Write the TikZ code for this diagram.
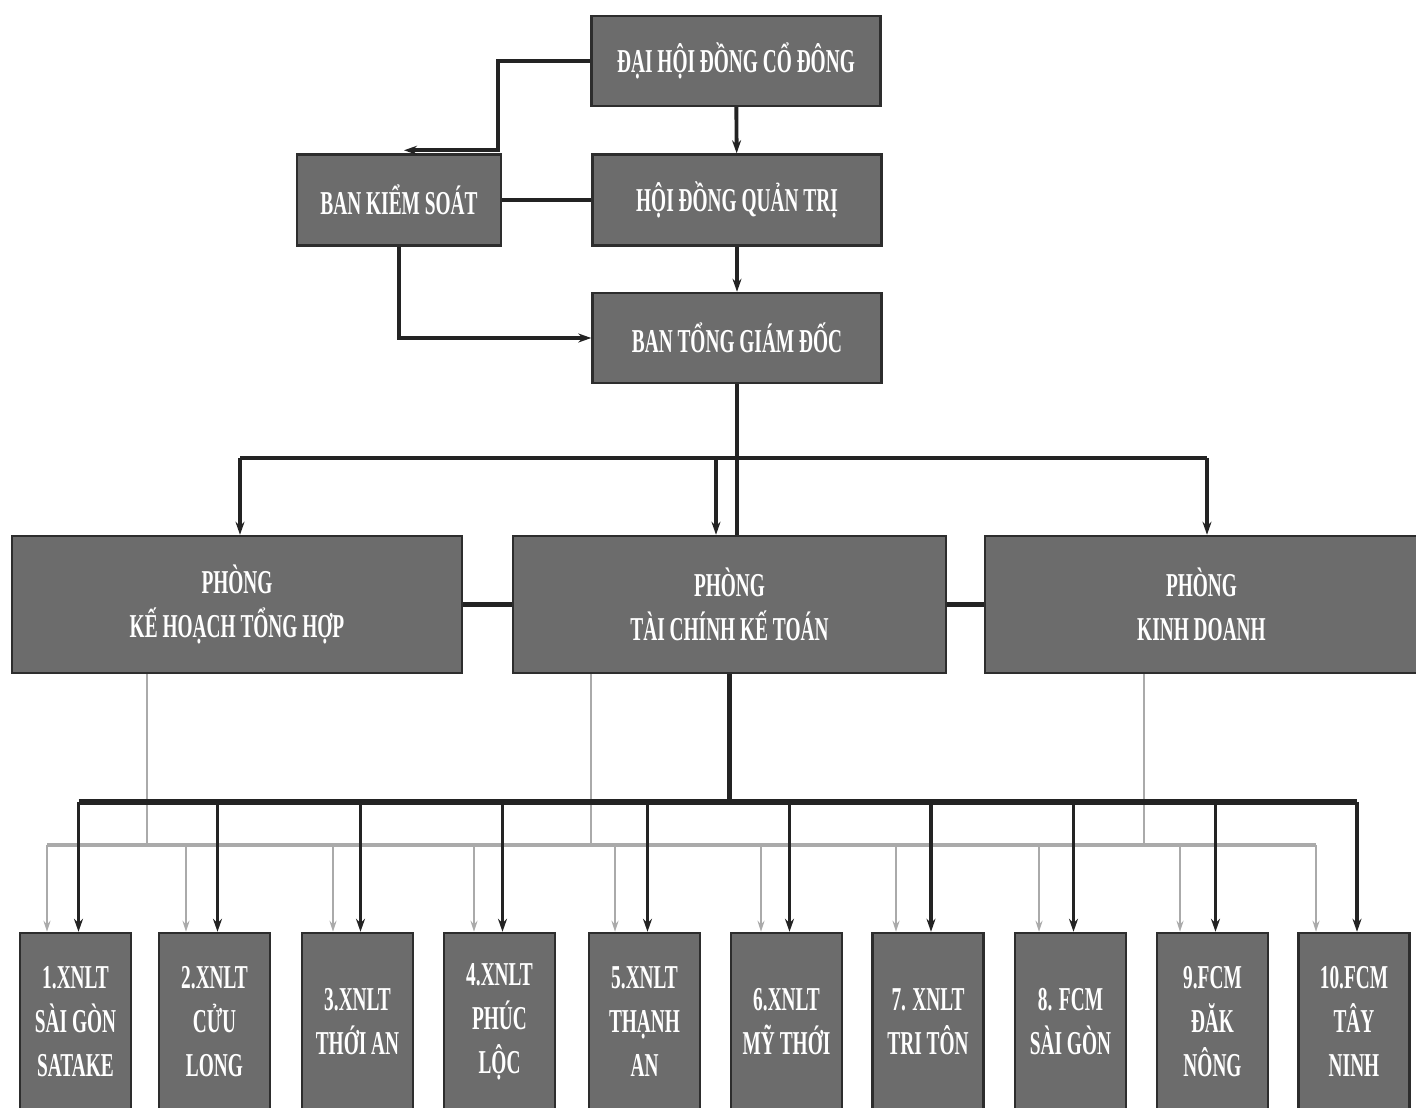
\documentclass[tikz,border=0pt]{standalone}
\usepackage{fontspec}
\setmainfont{Liberation Serif}[FakeStretch=0.58]
\usetikzlibrary{arrows.meta}

\definecolor{boxgray}{RGB}{108,108,108}
\definecolor{boxedge}{RGB}{45,45,45}
\definecolor{linedark}{RGB}{35,35,35}
\definecolor{linegray}{RGB}{170,170,170}

\tikzset{
  unit/.style={draw=boxedge, line width=1.4pt, fill=boxgray, text=white, align=center,
    inner sep=0pt, font=\fontsize{19}{25}\selectfont\bfseries},
  topbox/.style={unit, minimum width=5.78cm, minimum height=1.8cm},
  deptbox/.style={unit, minimum width=8.66cm, minimum height=2.74cm},
  branch/.style={unit, minimum width=2.22cm, minimum height=3.54cm},
  link/.style={draw=linedark, line width=2.2pt},
  linkto/.style={link, -{Stealth[length=0.26cm,width=0.18cm]}},
  glink/.style={draw=linegray, line width=1.6pt},
  glinkto/.style={glink, -{Stealth[length=0.22cm,width=0.14cm]}},
}

\begin{document}
\begin{tikzpicture}[x=0.02cm,y=-0.02cm]
	\useasboundingbox (0,0) rectangle (1416,1108);

	% board level
	\node[topbox] (dhd) at (736,61) {ĐẠI HỘI ĐỒNG CỔ ĐÔNG};
	\node[topbox, minimum height=1.82cm] (hdqt) at (737,200) {HỘI ĐỒNG QUẢN TRỊ};
	\node[topbox, minimum width=4.08cm, minimum height=1.82cm] (bks) at (399,200) {BAN KIỂM SOÁT};
	\node[topbox] (btgd) at (737,338) {BAN TỔNG GIÁM ĐỐC};

	% departments
	\node[deptbox, minimum width=9cm] (khth) at (237,604.5) {PHÒNG\\KẾ HOẠCH TỔNG HỢP};
	\node[deptbox] (tckt) at (729.5,604.5) {PHÒNG\\TÀI CHÍNH KẾ TOÁN};
	\node[deptbox] (kd) at (1201.5,604.5) {PHÒNG\\KINH DOANH};

	% branches
	\foreach \i/\cx/\gx/\txt in {1/75.5/47/{1.XNLT\\SÀI GÒN\\SATAKE},
		2/214.5/186/{2.XNLT\\CỬU\\LONG}, 3/357.5/333/{3.XNLT\\THỚI AN},
		4/499.5/474/{4.XNLT\\PHÚC\\LỘC}, 5/644.5/615/{5.XNLT\\THẠNH\\AN},
		6/786.5/761/{6.XNLT\\MỸ THỚI}, 7/928/896/{7. XNLT\\TRI TÔN},
		8/1070.5/1039/{8. FCM\\SÀI GÒN}, 9/1212.5/1180/{9.FCM\\ĐĂK\\NÔNG},
		10/1354/1316/{10.FCM\\TÂY\\NINH}}{
		\node[branch] (b\i) at (\cx,1021.5) {\txt};
		\coordinate (g\i) at (\gx,0);
		\coordinate (d\i) at ([xshift=0.06cm]b\i.north);
	}

	% top connectors
	\draw[linkto] (dhd) -- (hdqt);
	\draw[linkto] (hdqt) -- (btgd);
	\draw[linkto] (dhd.west) -| ([xshift=-0.08cm,yshift=0.06cm]bks.north east)
		-- ([xshift=0.1cm,yshift=0.06cm]bks.north);
	\draw[link] (bks) -- (hdqt);
	\draw[linkto] (bks.south) |- (btgd.west);

	% to departments
	\coordinate (tbus) at (0,458);
	\coordinate (a1) at ([xshift=0.06cm]khth.north);
	\coordinate (a2) at ([xshift=-0.27cm]tckt.north);
	\coordinate (a3) at ([xshift=0.11cm]kd.north);
	\draw[link, line width=1.8pt] (btgd.south) -- (btgd.south |- tckt.north);
	\draw[link, line width=2.8pt] (a1 |- tbus) -- (a3 |- tbus);
	\foreach \a in {a1,a2,a3}
		\draw[linkto] (\a |- tbus) -- (\a);
	\draw[link, line width=2.8pt] (khth) -- (tckt);
	\draw[link, line width=2.8pt] (tckt) -- (kd);

	% to branches, grey lines
	\coordinate (dbus) at (0,802);
	\coordinate (gbus) at (0,845);
	\coordinate (k1) at ([xshift=-1.8cm]khth.south);
	\coordinate (k2) at ([xshift=-2.77cm]tckt.south);
	\coordinate (k3) at ([xshift=-1.15cm]kd.south);
	\draw[glink, line width=2.8pt] (g1 |- gbus) -- (g10 |- gbus);
	\foreach \k in {k1,k2,k3}
		\draw[glink] (\k) -- (\k |- gbus);
	\foreach \i in {1,...,10}
		\draw[glinkto] (g\i |- gbus) -- (g\i |- b\i.north);

	% to branches, dark lines
	\draw[link, line width=3.4pt] (d1 |- dbus) -- (d10 |- dbus);
	\draw[link, line width=2.8pt] (tckt.south) -- (tckt.south |- dbus);
	\foreach \i in {1,...,10}
		\draw[linkto] (d\i |- dbus) -- (d\i);
\end{tikzpicture}
\end{document}
